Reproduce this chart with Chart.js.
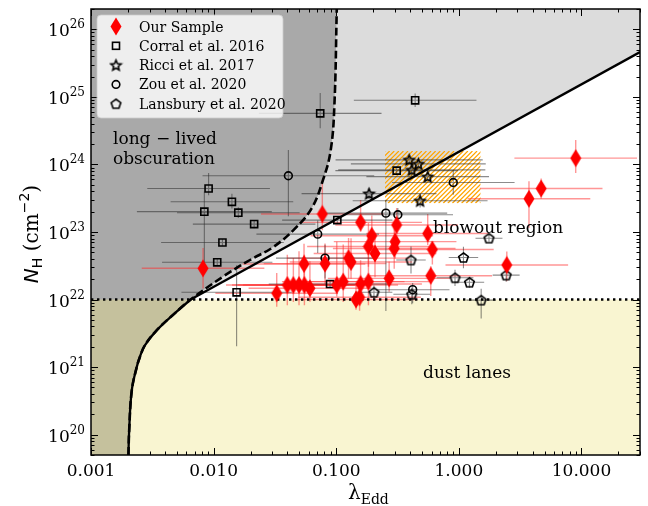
<!DOCTYPE html>
<html>
<head>
<meta charset="utf-8">
<script src="https://cdn.jsdelivr.net/npm/chart.js@4.4.1/dist/chart.umd.min.js"></script>
<style>
  html, body { margin: 0; padding: 0; background: #fff; }
</style>
</head>
<body>
<canvas id="nhChart" width="648" height="506"></canvas>
<script>
// axis ticks
const xTickVals = [0.001, 0.01, 0.1, 1, 10];
const xTickLabels = ['0.001', '0.010', '0.100', '1.000', '10.000'];
const yTickExps = [20, 21, 22, 23, 24, 25, 26];

// Our Sample (lambda_Edd, N_H, errors in dex)
const ourLam = [8.97, 4.69, 3.73, 2.46, 0.311, 0.557, 0.195, 0.302, 0.297, 0.183, 0.207, 0.608, 0.27, 0.59, 0.077, 0.158, 0.126, 0.132, 0.081, 0.0546, 0.0327, 0.0399, 0.0447, 0.0497, 0.055, 0.061, 0.101, 0.114, 0.158, 0.183, 0.145, 0.155, 0.0082];
const ourNH = [1.24e24, 4.4e23, 3.1e23, 3.25e22, 1.27e23, 9.5e22, 8.8e22, 7.2e22, 5.7e22, 6.1e22, 4.8e22, 5.5e22, 2.06e22, 2.25e22, 1.85e23, 1.39e23, 4.1e22, 3.6e22, 3.4e22, 3.36e22, 1.24e22, 1.64e22, 1.64e22, 1.64e22, 1.64e22, 1.47e22, 1.64e22, 1.84e22, 1.7e22, 1.84e22, 1.0e22, 1.08e22, 2.9e22];
const ourLamErr = [0.5, 0.5, 0.5, 0.5, 0.5, 0.5, 0.5, 0.5, 0.5, 0.5, 0.5, 0.5, 0.5, 0.5, 0.5, 0.5, 0.5, 0.5, 0.5, 0.5, 0.5, 0.5, 0.5, 0.5, 0.5, 0.5, 0.5, 0.5, 0.5, 0.5, 0.5, 0.5, 0.5];
const ourNHLo = [0.22, 0.15, 0.43, 0.24, 0.25, 0.17, 0.3, 0.25, 0.3, 0.3, 0.35, 0.22, 0.2, 0.3, 0.24, 0.14, 0.3, 0.25, 0.3, 0.25, 0.2, 0.3, 0.25, 0.3, 0.3, 0.2, 0.17, 0.3, 0.25, 0.35, 0.15, 0.2, 0.3];
const ourNHHi = [0.27, 0.15, 0.26, 0.2, 0.25, 0.29, 0.3, 0.3, 0.3, 0.35, 0.3, 0.12, 0.25, 0.14, 0.5, 0.33, 0.3, 0.35, 0.3, 0.3, 0.3, 0.45, 0.4, 0.5, 0.45, 0.4, 0.64, 0.55, 0.35, 0.6, 0.2, 0.25, 0.3];

// Corral et al. 2016
const corLam = [0.0091, 0.0141, 0.0084, 0.0159, 0.0214, 0.0118, 0.0107, 0.0154, 0.102, 0.089, 0.074, 0.44, 0.311];
const corNH = [4.4e23, 2.8e23, 2.0e23, 1.93e23, 1.31e23, 7.0e22, 3.56e22, 1.28e22, 1.5e23, 1.7e22, 5.7e24, 8.9e24, 8.1e23];
const corLamErr = [0.5, 0.5, 0.55, 0.5, 0.5, 0.5, 0.45, 0.45, 0.45, 0.5, 0.5, 0.5, 0.5];
const corNHLo = [0.1, 0.1, 0.84, 0.08, 0.06, 0.05, 0.05, 0.8, 0.05, 0.05, 0.22, 0.1, 0.05];
const corNHHi = [0.23, 0.12, 0.3, 0.08, 0.06, 0.05, 0.05, 0.4, 0.05, 0.05, 0.3, 0.1, 0.05];

// Ricci et al. 2017
const ricLam = [0.393, 0.467, 0.413, 0.557, 0.483, 0.185];
const ricNH = [1.17e24, 1.02e24, 8.3e23, 6.6e23, 2.9e23, 3.7e23];
const ricLamErr = [0.6, 0.55, 0.6, 0.5, 0.55, 0.55];
const ricNHErr = [0.05, 0.05, 0.1, 0.05, 0.1, 0.08];

// Zou et al. 2020
const zouLam = [0.0407, 0.0706, 0.081, 0.254, 0.318, 0.9, 0.42];
const zouNH = [6.8e23, 9.3e22, 4.1e22, 1.9e23, 1.8e23, 5.4e23, 1.4e22];
const zouLamErr = [0.7, 0.5, 0.4, 0.5, 0.45, 0.5, 0.3];
const zouNHLo = [0.6, 0.28, 0.3, 1.45, 0.1, 0.18, 0.2];
const zouNHHi = [0.38, 0.2, 0.2, 0.2, 0.1, 0.18, 0.1];

// Lansbury et al. 2020
const lanLam = [1.76, 1.09, 0.407, 2.43, 0.93, 1.22, 0.413, 0.203, 1.52];
const lanNH = [8.1e22, 4.2e22, 3.85e22, 2.3e22, 2.1e22, 1.8e22, 1.2e22, 1.28e22, 9.8e21];
const lanLamErr = [0.11, 0.12, 0.12, 0.11, 0.15, 0.12, 0.15, 0.15, 0.12];
const lanNHLo = [0.05, 0.16, 0.2, 0.1, 0.12, 0.08, 0.15, 0.1, 0.27];
const lanNHHi = [0.05, 0.16, 0.2, 0.1, 0.12, 0.08, 0.1, 0.1, 0.17];

// boundary curves
const dashLam = [0.00202, 0.00205, 0.00215, 0.00236, 0.0025, 0.00275, 0.00343, 0.00484, 0.0065, 0.012, 0.0198, 0.0307, 0.046, 0.063, 0.078, 0.090, 0.0966, 0.101];
const dashNH = [5e19, 1.2e20, 4.5e20, 1e21, 1.4e21, 2.1e21, 3.5e21, 6.3e21, 1e22, 2.2e22, 3.85e22, 6e22, 1.12e23, 2.24e23, 5.9e23, 1.6e24, 7.6e24, 2e26];
const thomLam = [0.0065, 30];
const thomNH = [1e22, 4.6e25];
const dustLam = [0.001, 30];
const dustNH = [1e22, 1e22];
const boxLam = [0.25, 1.5];
const boxNH = [2.66e23, 1.58e24];

const pts = (xs, ys) => xs.map((v, i) => ({ x: v, y: ys[i] }));

function markerCanvas(w, h, draw) {
    const c = document.createElement('canvas');
    c.width = w;
    c.height = h;
    draw(c.getContext('2d'), w, h);
    return c;
}

function polyPath(g, cx, cy, n, rOut, rIn) {
    g.beginPath();
    const steps = rIn ? n * 2 : n;
    for (let i = 0; i < steps; i++) {
        const r = rIn && i % 2 ? rIn : rOut;
        const ang = -Math.PI / 2 + i * 2 * Math.PI / steps;
        const px = cx + r * Math.cos(ang), py = cy + r * Math.sin(ang);
        if (i === 0) g.moveTo(px, py); else g.lineTo(px, py);
    }
    g.closePath();
}

const diamondImg = markerCanvas(12, 19, (g, w, h) => {
    g.fillStyle = '#ff0000';
    g.beginPath();
    g.moveTo(w / 2, 0.5);
    g.lineTo(w - 0.5, h / 2);
    g.lineTo(w / 2, h - 0.5);
    g.lineTo(0.5, h / 2);
    g.closePath();
    g.fill();
});
const starImg = markerCanvas(15, 15, (g) => {
    g.strokeStyle = '#000';
    g.lineWidth = 1.6;
    g.lineJoin = 'miter';
    polyPath(g, 7.5, 8, 5, 5.4, 2.5);
    g.stroke();
});
const pentImg = markerCanvas(15, 15, (g) => {
    g.strokeStyle = '#000';
    g.lineWidth = 1.6;
    polyPath(g, 7.5, 8, 5, 5.0);
    g.stroke();
});

const GREY_BAR = 'rgba(45,45,45,0.55)';

const backgroundPlugin = {
    id: 'regions',
    beforeDatasetsDraw(chart) {
        const { ctx, chartArea: a, scales: { x, y } } = chart;
        const lineOf = key => {
            const i = chart.data.datasets.findIndex(d => d.key === key);
            const el = chart.getDatasetMeta(i).dataset;
            el.updateControlPoints(a, 'x');
            return el;
        };
        ctx.save();
        ctx.beginPath();
        ctx.rect(a.left, a.top, a.right - a.left, a.bottom - a.top);
        ctx.clip();

        // light grey everywhere, white under the solid limit
        ctx.fillStyle = '#dcdcdc';
        ctx.fillRect(a.left, a.top, a.right - a.left, a.bottom - a.top);
        ctx.beginPath();
        lineOf('solidCurve').path(ctx);
        ctx.lineTo(x.getPixelForValue(thomLam[1]), y.getPixelForValue(thomNH[1]));
        ctx.lineTo(a.right + 2, a.bottom + 2);
        ctx.closePath();
        ctx.fillStyle = '#ffffff';
        ctx.fill();

        // long-lived obscuration (left of dashed curve)
        ctx.beginPath();
        lineOf('dashed').path(ctx);
        ctx.lineTo(a.left - 2, a.top - 2);
        ctx.lineTo(a.left - 2, a.bottom + 2);
        ctx.closePath();
        ctx.fillStyle = '#a9a9a9';
        ctx.fill();

        // dust lanes
        const yDust = y.getPixelForValue(dustNH[0]);
        ctx.fillStyle = 'rgba(240,230,140,0.4)';
        ctx.fillRect(a.left, yDust, a.right - a.left, a.bottom - yDust);

        // hatched box
        const bx0 = x.getPixelForValue(boxLam[0]), bx1 = x.getPixelForValue(boxLam[1]);
        const by0 = y.getPixelForValue(boxNH[1]), by1 = y.getPixelForValue(boxNH[0]);
        ctx.save();
        ctx.beginPath();
        ctx.rect(bx0, by0, bx1 - bx0, by1 - by0);
        ctx.clip();
        ctx.strokeStyle = '#ffa500';
        ctx.lineWidth = 1.2;
        const bh = by1 - by0;
        ctx.beginPath();
        for (let k = -bh; k < bx1 - bx0 + bh; k += 4.6) {
            ctx.moveTo(bx0 + k, by1);
            ctx.lineTo(bx0 + k + bh, by0);
        }
        ctx.stroke();
        ctx.restore();

        // error bars
        chart.data.datasets.forEach(ds => {
            if (!ds.errLam) return;
            ctx.strokeStyle = ds.barColor;
            ctx.lineWidth = ds.barWidth;
            ds.data.forEach((p, i) => {
                const px = x.getPixelForValue(p.x), py = y.getPixelForValue(p.y);
                const f = Math.pow(10, ds.errLam[i]);
                ctx.beginPath();
                ctx.moveTo(x.getPixelForValue(p.x / f), py);
                ctx.lineTo(x.getPixelForValue(p.x * f), py);
                ctx.moveTo(px, y.getPixelForValue(p.y / Math.pow(10, ds.errLo[i])));
                ctx.lineTo(px, y.getPixelForValue(p.y * Math.pow(10, ds.errHi[i])));
                ctx.stroke();
            });
        });
        ctx.restore();
    }
};

const framePlugin = {
    id: 'frame',
    afterDraw(chart) {
        const { ctx, chartArea: a, scales: { x, y } } = chart;
        ctx.save();
        ctx.fillStyle = '#000';
        ctx.strokeStyle = '#000';

        // text in the plot
        ctx.font = '17px "DejaVu Serif"';
        ctx.textAlign = 'left';
        ctx.textBaseline = 'alphabetic';
        ctx.fillText('long \u2212 lived', 113, 144);
        ctx.fillText('obscuration', 113, 164);
        ctx.fillText('blowout region', 433, 233);
        ctx.fillText('dust lanes', 423, 378);

        // ticks, inward on all sides
        ctx.lineWidth = 1;
        ctx.beginPath();
        for (let k = -3; k <= 1; k++) {
            for (let m = 1; m <= 9; m++) {
                const v = m * Math.pow(10, k);
                if (v < 0.001 || v > 30) continue;
                const px = Math.round(x.getPixelForValue(v)) + 0.5;
                const len = m === 1 ? 7 : 3.5;
                ctx.moveTo(px, a.bottom); ctx.lineTo(px, a.bottom - len);
                ctx.moveTo(px, a.top); ctx.lineTo(px, a.top + len);
            }
        }
        for (let k = 19; k <= 26; k++) {
            for (let m = 1; m <= 9; m++) {
                const v = m * Math.pow(10, k);
                if (v < 5e19 || v > 2e26) continue;
                const py = Math.round(y.getPixelForValue(v)) + 0.5;
                const len = m === 1 ? 7 : 3.5;
                ctx.moveTo(a.left, py); ctx.lineTo(a.left + len, py);
                ctx.moveTo(a.right, py); ctx.lineTo(a.right - len, py);
            }
        }
        ctx.stroke();

        // frame
        ctx.lineWidth = 1.5;
        ctx.strokeRect(a.left, a.top, a.right - a.left, a.bottom - a.top);

        // tick labels
        ctx.font = '17px "DejaVu Serif"';
        ctx.textAlign = 'center';
        xTickVals.forEach((v, i) => {
            ctx.fillText(xTickLabels[i], x.getPixelForValue(v), 476);
        });
        yTickExps.forEach(e => {
            const py = y.getPixelForValue(Math.pow(10, e));
            ctx.font = '12px "DejaVu Serif"';
            ctx.textAlign = 'left';
            const sw = ctx.measureText(String(e)).width;
            ctx.fillText(String(e), 85 - sw, py - 1);
            ctx.font = '17px "DejaVu Serif"';
            ctx.textAlign = 'right';
            ctx.fillText('10', 85 - sw, py + 7);
        });

        // x label
        ctx.textAlign = 'left';
        ctx.font = '20px "DejaVu Serif"';
        ctx.fillText('\u03bb', 348, 499);
        const lw = ctx.measureText('\u03bb').width;
        ctx.font = '14px "DejaVu Serif"';
        ctx.fillText('Edd', 348 + lw, 504);

        // y label
        ctx.save();
        ctx.translate(31, 234);
        ctx.rotate(-Math.PI / 2);
        const parts = [
            ['N', 'italic 20px "DejaVu Sans"', 0],
            ['H', '14px "DejaVu Sans"', 4],
            [' (cm', '20px "DejaVu Serif"', 0],
            ['\u22122', '14px "DejaVu Sans"', -9],
            [')', '20px "DejaVu Serif"', 0]
        ];
        let total = 0;
        parts.forEach(p => { ctx.font = p[1]; total += ctx.measureText(p[0]).width; });
        let cx = -total / 2;
        parts.forEach(p => {
            ctx.font = p[1];
            ctx.fillText(p[0], cx, 7 + p[2]);
            cx += ctx.measureText(p[0]).width;
        });
        ctx.restore();

        // legend
        const lx = 97, ly = 15, lwid = 186, lht = 103;
        ctx.beginPath();
        ctx.roundRect(lx, ly, lwid, lht, 4);
        ctx.fillStyle = 'rgba(255,255,255,0.8)';
        ctx.fill();
        ctx.strokeStyle = 'rgba(204,204,204,0.8)';
        ctx.lineWidth = 1;
        ctx.stroke();
        const rows = chart.data.datasets.filter(d => d.errLam);
        ctx.font = '14px "DejaVu Serif"';
        ctx.textAlign = 'left';
        rows.forEach((ds, i) => {
            const cy = 26.5 + i * 19.3;
            const mx = 116;
            ctx.fillStyle = '#000';
            ctx.fillText(ds.label, 139, cy + 5);
            ctx.strokeStyle = '#000';
            ctx.lineWidth = 1.6;
            if (ds.pointStyle === 'rect') {
                ctx.strokeRect(mx - 3.5, cy - 3.5, 7, 7);
            } else if (ds.pointStyle === 'circle') {
                ctx.beginPath(); ctx.arc(mx, cy, 3.8, 0, 2 * Math.PI); ctx.stroke();
            } else {
                const img = ds.pointStyle;
                ctx.drawImage(img, mx - img.width / 2, cy - img.height / 2);
            }
        });
        ctx.restore();
    }
};

const lineSet = (key, xs, ys, extra) => Object.assign({
    key: key, label: key, data: pts(xs, ys), showLine: true, pointRadius: 0,
    borderColor: '#000', borderWidth: 2.3, backgroundColor: 'rgba(0,0,0,0)', order: 10
}, extra);

const nSolid = dashNH.filter(v => v <= 1e22).length;

new Chart(document.getElementById('nhChart').getContext('2d'), {
    type: 'scatter',
    data: {
        datasets: [
            {
                label: 'Our Sample', data: pts(ourLam, ourNH), pointStyle: diamondImg,
                errLam: ourLamErr, errLo: ourNHLo, errHi: ourNHHi,
                barColor: 'rgba(255,45,45,0.5)', barWidth: 1.4, order: 1
            },
            {
                label: 'Corral et al. 2016', data: pts(corLam, corNH), pointStyle: 'rect', pointRadius: 5,
                borderColor: '#000', borderWidth: 1.6, backgroundColor: 'rgba(0,0,0,0)',
                errLam: corLamErr, errLo: corNHLo, errHi: corNHHi, barColor: GREY_BAR, barWidth: 1.1, order: 2
            },
            {
                label: 'Ricci et al. 2017', data: pts(ricLam, ricNH), pointStyle: starImg,
                errLam: ricLamErr, errLo: ricNHErr, errHi: ricNHErr, barColor: GREY_BAR, barWidth: 1.1, order: 3
            },
            {
                label: 'Zou et al. 2020', data: pts(zouLam, zouNH), pointStyle: 'circle', pointRadius: 3.9,
                borderColor: '#000', borderWidth: 1.6, backgroundColor: 'rgba(0,0,0,0)',
                errLam: zouLamErr, errLo: zouNHLo, errHi: zouNHHi, barColor: GREY_BAR, barWidth: 1.1, order: 4
            },
            {
                label: 'Lansbury et al. 2020', data: pts(lanLam, lanNH), pointStyle: pentImg,
                errLam: lanLamErr, errLo: lanNHLo, errHi: lanNHHi, barColor: GREY_BAR, barWidth: 1.1, order: 5
            },
            lineSet('dashed', dashLam, dashNH, { borderWidth: 2.6, borderDash: [8, 3.5], tension: 0.4 }),
            lineSet('solidCurve', dashLam.slice(0, nSolid), dashNH.slice(0, nSolid), { tension: 0.4 }),
            lineSet('thomson', thomLam, thomNH, {}),
            lineSet('dust', dustLam, dustNH, { borderWidth: 2.4, borderDash: [2.4, 3.6] })
        ]
    },
    options: {
        responsive: false,
        animation: false,
        devicePixelRatio: 1,
        layout: { padding: { left: 91, right: 8, top: 9, bottom: 51 } },
        scales: {
            x: { type: 'logarithmic', min: 0.001, max: 30, display: false },
            y: { type: 'logarithmic', min: 5e19, max: 2e26, display: false }
        },
        plugins: {
            legend: { display: false },
            tooltip: { enabled: false }
        }
    },
    plugins: [backgroundPlugin, framePlugin]
});
</script>
</body>
</html>
